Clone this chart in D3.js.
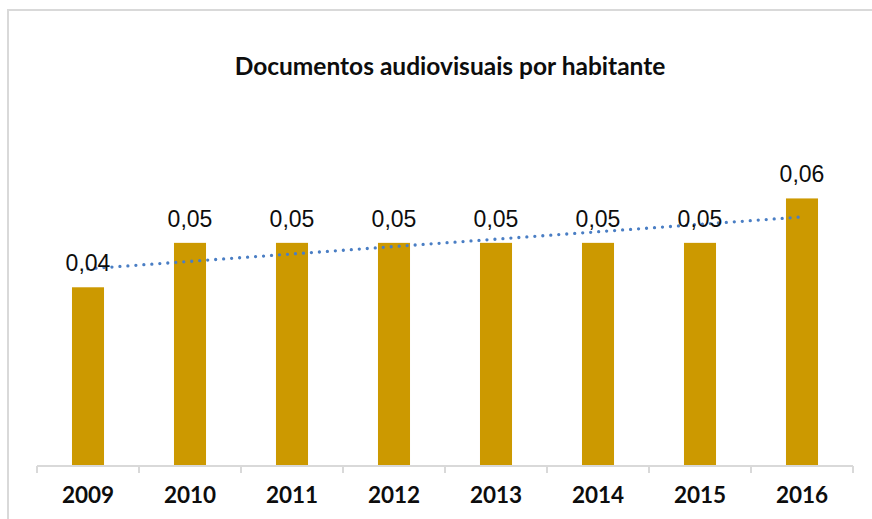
<!DOCTYPE html>
<html>
<head>
<meta charset="utf-8">
<script src="https://cdn.jsdelivr.net/npm/d3@7"></script>
<style>
  html, body { margin: 0; padding: 0; background: #fff; }
  svg { display: block; }
</style>
</head>
<body>
<svg id="chart" width="872" height="519"></svg>
<script>
// 데이터
const years = ["2009", "2010", "2011", "2012", "2013", "2014", "2015", "2016"];
const values = [0.04, 0.05, 0.05, 0.05, 0.05, 0.05, 0.05, 0.06];
const labels = ["0,04", "0,05", "0,05", "0,05", "0,05", "0,05", "0,05", "0,06"];
const title = "Documentos audiovisuais por habitante";

const W = 872, H = 519;
const BAR = "#CC9900", TREND = "#4A7EC4", GRID = "#d9d9d9";

const svg = d3.select("#chart");

// 바깥 테두리 (왼쪽/위쪽만 보임)
svg.append("rect")
  .attr("x", 8).attr("y", 10)
  .attr("width", 1000).attr("height", 1000)
  .attr("fill", "none").attr("stroke", GRID).attr("stroke-width", 2);

// 제목
svg.append("text")
  .attr("x", 450).attr("y", 75)
  .attr("text-anchor", "middle")
  .attr("font-family", "Lato, 'Open Sans', sans-serif")
  .attr("font-weight", "bold")
  .attr("font-size", 24.5)
  .attr("fill", "#0d0d0d")
  .text(title);

// 스케일
const x = d3.scaleBand().domain(years).range([37, 853])
  .paddingInner(0.686).paddingOuter(0.343);
const y = d3.scaleLinear().domain([0, 0.07]).range([465, 154]);

// 막대
svg.selectAll(".bar")
  .data(values)
  .join("rect")
  .attr("class", "bar")
  .attr("x", (d, i) => x(years[i]))
  .attr("y", d => y(d))
  .attr("width", x.bandwidth())
  .attr("height", d => y(0) - y(d))
  .attr("fill", BAR);

// x축 선 + 구간 눈금
const axisY = 466;
svg.append("line")
  .attr("x1", x.range()[0]).attr("x2", x.range()[1])
  .attr("y1", axisY).attr("y2", axisY)
  .attr("stroke", GRID).attr("stroke-width", 2);

const tickPos = d3.range(years.length + 1).map(i => x.range()[0] + i * x.step());
svg.selectAll(".tick")
  .data(tickPos)
  .join("line")
  .attr("class", "tick")
  .attr("x1", d => d).attr("x2", d => d)
  .attr("y1", axisY).attr("y2", axisY + 7)
  .attr("stroke", GRID).attr("stroke-width", 2);

// 연도 라벨
svg.selectAll(".year")
  .data(years)
  .join("text")
  .attr("class", "year")
  .attr("x", d => x(d) + x.bandwidth() / 2)
  .attr("y", 503)
  .attr("text-anchor", "middle")
  .attr("font-family", "Lato, 'Open Sans', sans-serif")
  .attr("font-weight", "bold")
  .attr("font-size", 22.5)
  .attr("fill", "#0d0d0d")
  .text(d => d);

// 추세선 (선형 회귀)
const n = values.length;
const xs = d3.range(1, n + 1);
const mx = d3.mean(xs), my = d3.mean(values);
const slope = d3.sum(xs, (v, i) => (v - mx) * (values[i] - my)) / d3.sum(xs, v => (v - mx) ** 2);
const icpt = my - slope * mx;
const trend = [0, n - 1].map(i => [x(years[i]) + x.bandwidth() / 2, y(icpt + slope * (i + 1))]);

svg.append("path")
  .attr("d", d3.line()(trend))
  .attr("fill", "none")
  .attr("stroke", TREND)
  .attr("stroke-width", 3.3)
  .attr("stroke-linecap", "round")
  .attr("stroke-dasharray", "0 8");

// 값 라벨
svg.selectAll(".val")
  .data(values)
  .join("text")
  .attr("class", "val")
  .attr("x", (d, i) => x(years[i]) + x.bandwidth() / 2)
  .attr("y", d => y(d) - 16)
  .attr("text-anchor", "middle")
  .attr("font-family", "'Liberation Sans', Arial, sans-serif")
  .attr("font-size", 23)
  .attr("fill", "#0d0d0d")
  .text((d, i) => labels[i]);
</script>
</body>
</html>
